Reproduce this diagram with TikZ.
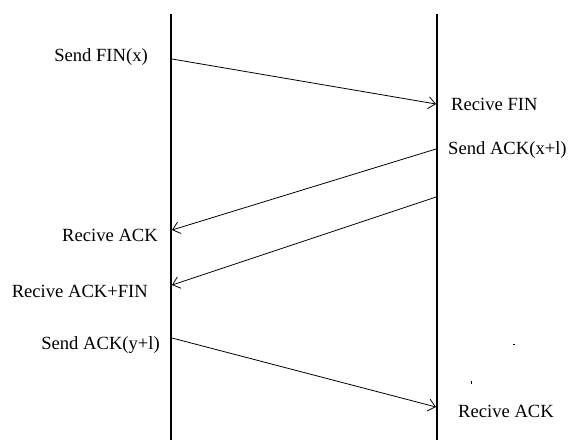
\documentclass[tikz,border=0pt]{standalone}
\usepackage{fontspec}
\setmainfont{Liberation Serif}
\usetikzlibrary{arrows.meta}
\begin{document}
\begin{tikzpicture}[x=1pt,y=-1pt,
  lbl/.style={inner sep=0pt,font=\fontsize{18.6}{21}\selectfont},
  life/.style={line width=1.2pt},
  msg/.style={line width=0.8pt,-{Straight Barb[length=7pt,width=12pt,line width=0.8pt]}}]
\useasboundingbox (0,0) rectangle (569,440);
% lifelines
\coordinate (Ltop) at (171,14);
\coordinate (Lbot) at (171,440);
\coordinate (Rtop) at (437,14);
\coordinate (Rbot) at (437,440);
\draw[life] (Ltop) -- (Lbot);
\draw[life] (Rtop) -- (Rbot);
% message end points
\coordinate (m1s) at (172,59);
\coordinate (m1e) at (436,104);
\coordinate (m2s) at (436,149);
\coordinate (m2e) at (172,230);
\coordinate (m3s) at (436,197);
\coordinate (m3e) at (172,285);
\coordinate (m4s) at (172,338);
\coordinate (m4e) at (436,407);
\draw[msg] (m1s) -- (m1e);
\draw[msg] (m2s) -- (m2e);
\draw[msg] (m3s) -- (m3e);
\draw[msg] (m4s) -- (m4e);
% labels
\node[lbl,anchor=east] (t1) at (148,57) {Send FIN(x)};
\node[lbl,anchor=west] (t2) at (451,104) {Recive FIN};
\node[lbl,anchor=west] (t3) at (448,150) {Send ACK(x+l)};
\node[lbl,anchor=east] (t4) at (158,235) {Recive ACK};
\node[lbl,anchor=east] (t5) at (148,291) {Recive ACK+FIN};
\node[lbl,anchor=east] (t6) at (160,345) {Send ACK(y+l)};
\node[lbl,anchor=west] (t7) at (458,411) {Recive ACK};
% stray specks
\fill (471,381) rectangle (472,384);
\fill (513,344) rectangle (515,345);
\end{tikzpicture}
\end{document}
